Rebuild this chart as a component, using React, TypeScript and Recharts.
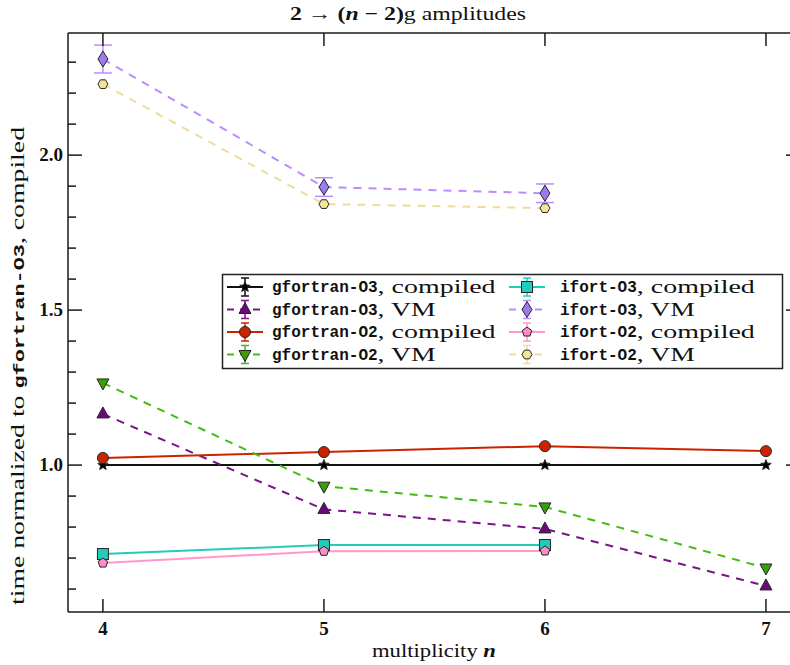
import React from "react";
import {
  LineChart,
  Line,
  XAxis,
  YAxis,
  ErrorBar,
  ReferenceLine,
} from "recharts";

// multiplicity n
const N = [4, 5, 6, 7];

// time normalized to gfortran-O3 compiled
const gfortranO3Compiled = [1.0, 1.0, 1.0, 1.0];
const gfortranO3VM = [1.165, 0.857, 0.794, 0.61];
const gfortranO2Compiled = [1.023, 1.042, 1.061, 1.045];
const gfortranO2VM = [1.265, 0.932, 0.865, 0.668];
const ifortO3Compiled = [0.713, 0.742, 0.742];
const ifortO3VM = [2.31, 1.897, 1.877];
const ifortO3VMErr = [0.045, 0.03, 0.03];
const ifortO2Compiled = [0.684, 0.722, 0.723];
const ifortO2VM = [2.229, 1.842, 1.829];

const X_TICKS = [4, 5, 6, 7];
const Y_TICKS = [0.6, 0.7, 0.8, 0.9, 1.0, 1.1, 1.2, 1.3, 1.4, 1.5, 1.6, 1.7, 1.8, 1.9, 2.0, 2.1, 2.2, 2.3];

const X_DOMAIN: [number, number] = [3.842, 7.154];
const Y_DOMAIN: [number, number] = [0.526, 2.394];

const SERIF = "'Liberation Serif', serif";
const MONO = "'Liberation Mono', monospace";

const PLOT_LEFT = 68;
const PLOT_RIGHT = 800;
const PLOT_TOP = 33;
const PLOT_BOTTOM = 612;
const AXIS = "#1a1a1a";

const pick = (arr: number[], i: number) => (i < arr.length ? arr[i] : null);

const data = N.map((n, i) => ({
  n,
  gO3c: pick(gfortranO3Compiled, i),
  gO3v: pick(gfortranO3VM, i),
  gO2c: pick(gfortranO2Compiled, i),
  gO2v: pick(gfortranO2VM, i),
  iO3c: pick(ifortO3Compiled, i),
  iO3v: pick(ifortO3VM, i),
  iO3vErr: pick(ifortO3VMErr, i),
  iO2c: pick(ifortO2Compiled, i),
  iO2v: pick(ifortO2VM, i),
}));

type Shape = "star" | "triUp" | "triDown" | "circle" | "square" | "diamond" | "pentagon" | "hexagon";

const poly = (cx: number, cy: number, r: number, k: number, rot: number) =>
  Array.from({ length: k }, (_, j) => {
    const a = rot + (j * 2 * Math.PI) / k;
    return `${cx + r * Math.cos(a)},${cy + r * Math.sin(a)}`;
  }).join(" ");

const starPts = (cx: number, cy: number, ro: number, ri: number) =>
  Array.from({ length: 10 }, (_, j) => {
    const a = -Math.PI / 2 + (j * Math.PI) / 5;
    const r = j % 2 === 0 ? ro : ri;
    return `${cx + r * Math.cos(a)},${cy + r * Math.sin(a)}`;
  }).join(" ");

const Marker = ({ cx, cy, shape, fill }: { cx: number; cy: number; shape: Shape; fill: string }) => {
  const st = { fill, stroke: "#262626", strokeWidth: 1 };
  switch (shape) {
    case "star":
      return <polygon points={starPts(cx, cy, 5.5, 2.4)} {...st} fill="#000" />;
    case "triUp":
      return <polygon points={`${cx},${cy - 7} ${cx - 6},${cy + 4} ${cx + 6},${cy + 4}`} {...st} />;
    case "triDown":
      return <polygon points={`${cx - 6},${cy - 4} ${cx + 6},${cy - 4} ${cx},${cy + 7}`} {...st} />;
    case "circle":
      return <circle cx={cx} cy={cy} r={5.5} {...st} />;
    case "square":
      return <rect x={cx - 5.5} y={cy - 5.5} width={11} height={11} {...st} />;
    case "diamond":
      return <polygon points={`${cx},${cy - 8} ${cx + 5},${cy} ${cx},${cy + 8} ${cx - 5},${cy}`} {...st} />;
    case "pentagon":
      return <polygon points={poly(cx, cy, 5, 5, -Math.PI / 2)} {...st} />;
    case "hexagon":
      return <polygon points={poly(cx, cy, 5, 6, 0)} {...st} />;
  }
  return null;
};

type Series = {
  key: string;
  mono: string;
  suffix: string;
  color: string;
  fill: string;
  shape: Shape;
  dashed: boolean;
  err?: string;
};

const SERIES: Series[] = [
  { key: "gO3c", mono: "gfortran-O3", suffix: ", compiled", color: "#111111", fill: "#000", shape: "star", dashed: false },
  { key: "gO3v", mono: "gfortran-O3", suffix: ", VM", color: "#7a1488", fill: "#6a0a7a", shape: "triUp", dashed: true },
  { key: "gO2c", mono: "gfortran-O2", suffix: ", compiled", color: "#cc2200", fill: "#cc2200", shape: "circle", dashed: false },
  { key: "gO2v", mono: "gfortran-O2", suffix: ", VM", color: "#44bb11", fill: "#3a9e0a", shape: "triDown", dashed: true },
  { key: "iO3c", mono: "ifort-O3", suffix: ", compiled", color: "#22ccbb", fill: "#22ccbb", shape: "square", dashed: false },
  { key: "iO3v", mono: "ifort-O3", suffix: ", VM", color: "#bb8cff", fill: "#9c7af0", shape: "diamond", dashed: true, err: "iO3vErr" },
  { key: "iO2c", mono: "ifort-O2", suffix: ", compiled", color: "#ff99cc", fill: "#ff8cc6", shape: "pentagon", dashed: false },
  { key: "iO2v", mono: "ifort-O2", suffix: ", VM", color: "#eedd99", fill: "#f3e49c", shape: "hexagon", dashed: true },
];

const XTick = (props: any) => {
  const x = props.x;
  return (
    <g>
      <line x1={x} x2={x} y1={PLOT_BOTTOM} y2={PLOT_BOTTOM - 13} stroke={AXIS} strokeWidth={1.5} />
      <line x1={x} x2={x} y1={PLOT_TOP} y2={PLOT_TOP + 13} stroke={AXIS} strokeWidth={1.5} />
      <text x={x} y={635} textAnchor="middle" fontFamily={SERIF} fontWeight="bold" fontSize={19} fill="#111">
        {props.payload.value}
      </text>
    </g>
  );
};

const YTick = (props: any) => {
  const y = props.y;
  const v = props.payload.value;
  const major = Math.abs(v * 2 - Math.round(v * 2)) < 1e-6;
  const len = major ? 14 : 8;
  return (
    <g>
      <line x1={PLOT_LEFT} x2={PLOT_LEFT + len} y1={y} y2={y} stroke={AXIS} strokeWidth={1.5} />
      <line x1={PLOT_RIGHT} x2={PLOT_RIGHT - len} y1={y} y2={y} stroke={AXIS} strokeWidth={1.5} />
      {major && (
        <text x={63} y={y + 6} textAnchor="end" fontFamily={SERIF} fontWeight="bold" fontSize={19} fill="#111">
          {v.toFixed(1)}
        </text>
      )}
    </g>
  );
};

const LegendIcon = ({ s, cx, cy }: { s: Series; cx: number; cy: number }) => (
  <g>
    <line x1={cx - 18} x2={cx + 18} y1={cy} y2={cy} stroke={s.color} strokeWidth={2} strokeDasharray={s.dashed ? "7 6" : undefined} />
    <line x1={cx} x2={cx} y1={cy - 9} y2={cy + 9} stroke={s.color} strokeWidth={1.5} />
    <line x1={cx - 4} x2={cx + 4} y1={cy - 9} y2={cy - 9} stroke={s.color} strokeWidth={1.5} />
    <line x1={cx - 4} x2={cx + 4} y1={cy + 9} y2={cy + 9} stroke={s.color} strokeWidth={1.5} />
    <Marker cx={cx} cy={cy} shape={s.shape} fill={s.fill} />
  </g>
);

const LEG_ROWS = [287, 309.5, 332, 354.5];
const LEG_COLS = [
  { icon: 245, text: 272 },
  { icon: 527, text: 560 },
];

const LegendBox = () => (
  <g>
    <rect x={222.5} y={274.5} width={560} height={94} fill="#fff" stroke="#222" strokeWidth={1.5} />
    {SERIES.map((s, i) => {
      const col = LEG_COLS[Math.floor(i / 4)];
      const cy = LEG_ROWS[i % 4];
      const monoW = s.mono.length * 9.6;
      return (
        <g key={s.key}>
          <LegendIcon s={s} cx={col.icon} cy={cy} />
          <text x={col.text} y={cy + 5} fontFamily={MONO} fontWeight="bold" fontSize={16} fill="#111">
            {s.mono}
          </text>
          <text
            x={col.text + monoW}
            y={cy + 6}
            fontFamily={SERIF}
            fontSize={19.5}
            fill="#111"
            textLength={s.suffix === ", VM" ? 58 : 118}
            lengthAdjust="spacingAndGlyphs"
          >
            {s.suffix}
          </text>
        </g>
      );
    })}
  </g>
);

export default function App() {
  return (
    <div
      style={{
        position: "absolute",
        left: 0,
        top: 0,
        width: 790,
        height: 665,
        overflow: "hidden",
        background: "#fff",
      }}
    >
      <LineChart width={810} height={665} data={data} margin={{ top: 33, right: 10, bottom: 23, left: 8 }}>
        <XAxis
          dataKey="n"
          type="number"
          domain={X_DOMAIN}
          ticks={X_TICKS}
          allowDataOverflow
          tickLine={false}
          axisLine={{ stroke: AXIS, strokeWidth: 1.5 }}
          tick={XTick}
          height={30}
        />
        <YAxis
          type="number"
          domain={Y_DOMAIN}
          ticks={Y_TICKS}
          allowDataOverflow
          tickLine={false}
          axisLine={{ stroke: AXIS, strokeWidth: 1.5 }}
          tick={YTick}
          width={60}
          interval={0}
        />
        <ReferenceLine y={Y_DOMAIN[1]} stroke={AXIS} strokeWidth={1.5} />
        <ReferenceLine x={X_DOMAIN[1]} stroke={AXIS} strokeWidth={1.5} />
        {SERIES.map((s) => (
          <Line
            key={s.key}
            dataKey={s.key}
            stroke={s.color}
            strokeWidth={2}
            strokeDasharray={s.dashed ? "8 7" : undefined}
            isAnimationActive={false}
            activeDot={false}
            dot={(p: any) =>
              p.cy == null || p.value == null ? (
                <g key={`${s.key}-${p.index}`} />
              ) : (
                <g key={`${s.key}-${p.index}`}>
                  <Marker cx={p.cx} cy={p.cy} shape={s.shape} fill={s.fill} />
                </g>
              )
            }
          >
            {s.err && <ErrorBar dataKey={s.err} width={9} stroke={s.color} strokeWidth={1.5} direction="y" />}
          </Line>
        ))}
      </LineChart>

      <svg width={790} height={665} style={{ position: "absolute", left: 0, top: 0, pointerEvents: "none" }}>
        <text
          x={408}
          y={20}
          textAnchor="middle"
          fontFamily={SERIF}
          fontSize={19}
          fill="#111"
          textLength={236}
          lengthAdjust="spacingAndGlyphs"
        >
          <tspan fontWeight="bold">2 → (</tspan>
          <tspan fontWeight="bold" fontStyle="italic">n</tspan>
          <tspan fontWeight="bold"> − 2)</tspan>
          <tspan>g amplitudes</tspan>
        </text>
        <text
          x={434}
          y={657}
          textAnchor="middle"
          fontFamily={SERIF}
          fontSize={19}
          fill="#111"
          textLength={124}
          lengthAdjust="spacingAndGlyphs"
        >
          multiplicity <tspan fontStyle="italic" fontWeight="bold">n</tspan>
        </text>
        <text
          x={0}
          y={0}
          transform="translate(24,366) rotate(-90)"
          textAnchor="middle"
          fontFamily={SERIF}
          fontSize={19}
          fill="#111"
          textLength={478}
          lengthAdjust="spacingAndGlyphs"
        >
          time normalized to{" "}
          <tspan fontFamily={MONO} fontWeight="bold" fontSize={15}>gfortran-O3</tspan>, compiled
        </text>
        <LegendBox />
      </svg>
    </div>
  );
}
